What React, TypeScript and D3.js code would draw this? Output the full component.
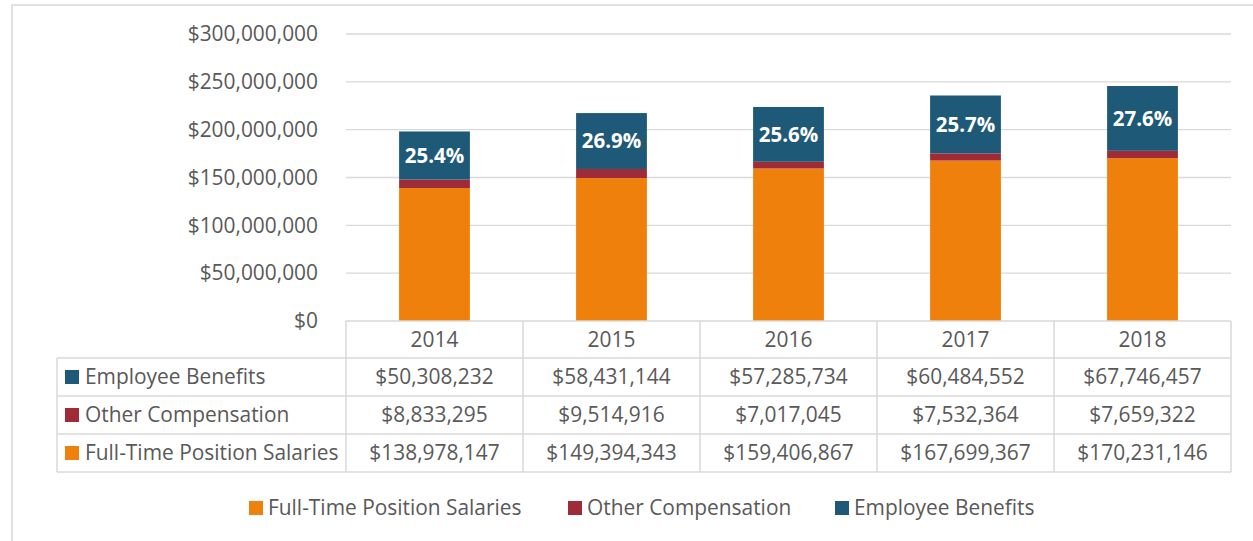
import React from "react";
import * as d3 from "d3";

const years = ["2014", "2015", "2016", "2017", "2018"];
const salaries = [138978147, 149394343, 159406867, 167699367, 170231146];
const otherComp = [8833295, 9514916, 7017045, 7532364, 7659322];
const benefits = [50308232, 58431144, 57285734, 60484552, 67746457];
const yTicks = [0, 50000000, 100000000, 150000000, 200000000, 250000000, 300000000];

const seriesNames = ["Full-Time Position Salaries", "Other Compensation", "Employee Benefits"];
const colors = ["#F0800C", "#A02B38", "#1F5978"];

const W = 1253;
const H = 541;
const FONT = "'Open Sans', sans-serif";
const TEXT = "#595959";
const GRID = "#d9d9d9";
const FS = 20.9;

export default function App() {
  const plotLeft = 346;
  const plotRight = 1231;
  const yTop = 34;
  const yBottom = 321;

  const x = d3.scaleBand<string>().domain(years).range([plotLeft, plotRight]).paddingInner(0).paddingOuter(0);
  const y = d3.scaleLinear().domain([0, 300000000]).range([yBottom, yTop]);
  const barW = x.bandwidth() * 0.4;

  const rows = years.map((yr, i) => ({ year: yr, s: salaries[i], o: otherComp[i], b: benefits[i] }));
  const stack = d3.stack<any>().keys(["s", "o", "b"])(rows);

  const fmtMoney = (v: number) => "$" + d3.format(",")(v);
  const fmtPct = d3.format(".1%");

  const rowH = 38;
  const headerTop = yBottom;
  const headerBottom = 358;
  const tableLeft = 57;
  const tableRows = [
    { name: seriesNames[2], color: colors[2], vals: benefits },
    { name: seriesNames[1], color: colors[1], vals: otherComp },
    { name: seriesNames[0], color: colors[0], vals: salaries },
  ];

  const legendItems = [
    { name: seriesNames[0], color: colors[0], x: 249 },
    { name: seriesNames[1], color: colors[1], x: 568 },
    { name: seriesNames[2], color: colors[2], x: 835 },
  ];

  return (
    <div style={{ position: "absolute", left: 0, top: 0 }}>
      <svg width={W} height={H} style={{ display: "block", fontFamily: FONT }}>
        <rect x={0} y={0} width={W} height={H} fill="#fff" />
        <rect x={12} y={5} width={W + 20} height={H + 20} fill="none" stroke={GRID} strokeWidth={1.5} />
        {yTicks.map((t) => (
          <g key={t}>
            {t > 0 && <line x1={plotLeft} x2={plotRight} y1={y(t)} y2={y(t)} stroke={GRID} strokeWidth={1.3} />}
            <text x={318} y={y(t)} dy="0.35em" textAnchor="end" fontSize={FS} fill={TEXT}>
              {t === 0 ? "$0" : fmtMoney(t)}
            </text>
          </g>
        ))}
        {stack.map((layer, li) => (
          <g key={li} fill={colors[li]}>
            {layer.map((d: any, i: number) => (
              <rect
                key={i}
                x={(x(years[i]) as number) + (x.bandwidth() - barW) / 2}
                width={barW}
                y={y(d[1])}
                height={y(d[0]) - y(d[1])}
              />
            ))}
          </g>
        ))}
        {stack[2].map((d: any, i: number) => (
          <text
            key={i}
            x={(x(years[i]) as number) + x.bandwidth() / 2}
            y={(y(d[0]) + y(d[1])) / 2}
            dy="0.35em"
            textAnchor="middle"
            fill="#fff"
            fontWeight="bold"
            fontSize={20.5}
          >
            {fmtPct(benefits[i] / (salaries[i] + otherComp[i] + benefits[i]))}
          </text>
        ))}
        <g stroke={GRID} strokeWidth={1.5} fill="none">
          <line x1={plotLeft} x2={plotRight} y1={headerTop} y2={headerTop} />
          {[0, 1, 2, 3].map((r) => (
            <line key={r} x1={tableLeft} x2={plotRight} y1={headerBottom + r * rowH} y2={headerBottom + r * rowH} />
          ))}
          <line x1={tableLeft} x2={tableLeft} y1={headerBottom} y2={headerBottom + 3 * rowH} />
          {years.map((yr) => (
            <line key={yr} x1={x(yr) as number} x2={x(yr) as number} y1={headerTop} y2={headerBottom + 3 * rowH} />
          ))}
          <line x1={plotRight} x2={plotRight} y1={headerTop} y2={headerBottom + 3 * rowH} />
        </g>
        {years.map((yr) => (
          <text
            key={yr}
            x={(x(yr) as number) + x.bandwidth() / 2}
            y={(headerTop + headerBottom) / 2}
            dy="0.35em"
            textAnchor="middle"
            fontSize={FS}
            fill={TEXT}
          >
            {yr}
          </text>
        ))}
        {tableRows.map((r, ri) => {
          const cy = headerBottom + ri * rowH + rowH / 2;
          return (
            <g key={r.name}>
              <rect x={65} y={cy - 7} width={14} height={14} fill={r.color} />
              <text x={85} y={cy} dy="0.35em" fontSize={FS} fill={TEXT}>
                {r.name}
              </text>
              {r.vals.map((v, i) => (
                <text
                  key={i}
                  x={(x(years[i]) as number) + x.bandwidth() / 2}
                  y={cy}
                  dy="0.35em"
                  textAnchor="middle"
                  fontSize={FS}
                  fill={TEXT}
                >
                  {fmtMoney(v)}
                </text>
              ))}
            </g>
          );
        })}
        {legendItems.map((l) => (
          <g key={l.name}>
            <rect x={l.x} y={501} width={14} height={14} fill={l.color} />
            <text x={l.x + 19} y={508} dy="0.35em" fontSize={FS} fill={TEXT}>
              {l.name}
            </text>
          </g>
        ))}
      </svg>
    </div>
  );
}
